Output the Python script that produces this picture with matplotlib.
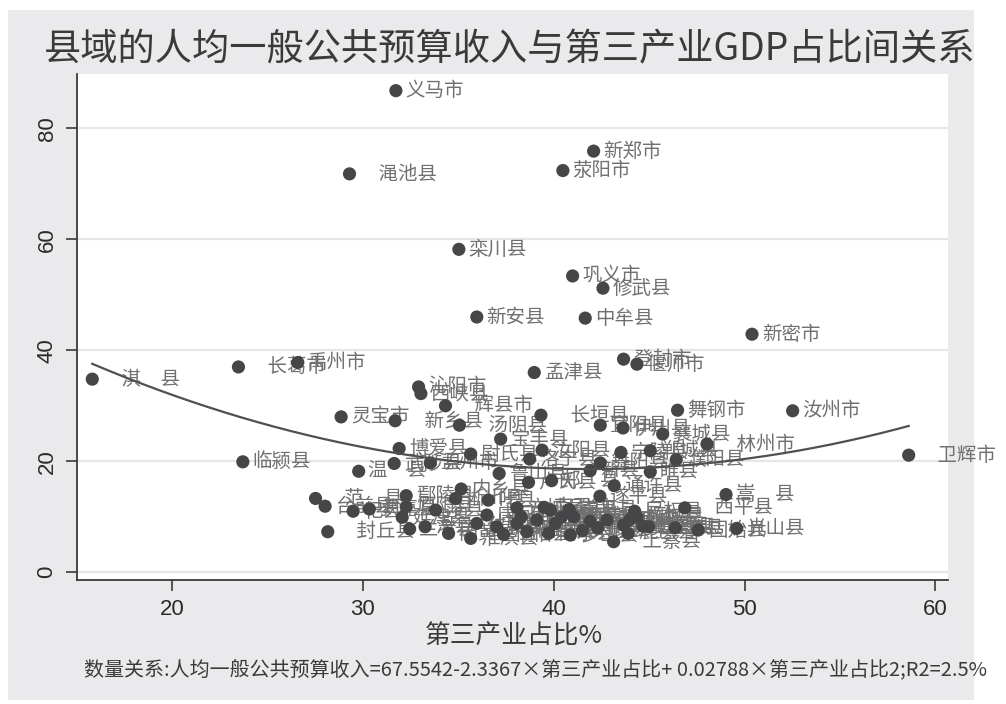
import matplotlib
matplotlib.use("Agg")
import matplotlib.pyplot as plt
from matplotlib.patches import Rectangle
import numpy as np

# ---------------- data ----------------
county_names = [
    "义马市", "　渑池县", "新郑市", "荥阳市", "栾川县", "巩义市", "修武县", "新安县", "中牟县", "新密市",
    "登封市", "偃师市", "　淇　县", "　长葛市", "禹州市", "孟津县", "沁阳市", "西峡县", "　辉县市", "灵宝市",
    "　新乡县", "　汤阴县", "　长垣县", "宜阳县", "伊川县", "舞钢市", "汝州市", "　卫辉市", "襄城县", "　林州市",
    "宁陵县", "郸城县", "濮阳县", "舞阳县", "睢县", "通许县", "嵩　县", "　西平县", "民权县", "光山县",
    "固始县", "息县", "　上蔡县", "新蔡县", "宝丰县", "汝阳县", "洛宁县", "尉氏县", "鲁山县", "新县",
    "郏　县", "卢氏县", "遂平县", "叶县", "方城县", "南召县", "镇平县", "博爱县", "武陟县", "温　县",
    "孟州市", "　范　县", "台前县", "杞县", "获嘉县", "鄢陵县", "原阳县", "延津县", "　封丘县", "兰考县",
    "滑县", "浚县", "内黄县", "内乡县", "淅川县", "淮滨县", "社旗县", "唐河县", "新野县", "桐柏县",
    "泌阳县", "确山县", "正阳县", "商水县", "汝南县", "平舆县", "罗山县", "商城县", "潢川县", "虞城县",
    "夏邑县", "柘城县", "沈丘县", "临颍县", "太康县", "扶沟县", "鹿邑县", "西华县", "淮阳县", "项城市",
]
tertiary_share = [
    31.73, 29.30, 42.09, 40.48, 35.03, 40.99, 42.58, 35.97, 41.65, 50.39,
    43.66, 44.36, 15.82, 23.48, 26.59, 38.98, 32.92, 33.04, 34.33, 28.86,
    31.69, 35.06, 39.33, 42.44, 43.63, 46.49, 52.52, 58.60, 45.71, 48.03,
    43.52, 45.06, 46.42, 42.44, 45.06, 43.17, 49.03, 46.87, 44.24, 49.59,
    47.57, 46.37, 43.14, 44.67, 37.22, 39.39, 38.74, 35.65, 37.14, 41.91,
    39.89, 38.68, 42.42, 36.57, 38.07, 39.50, 40.81, 31.90, 31.64, 29.78,
    33.53, 27.52, 28.02, 29.49, 30.34, 32.27, 32.27, 32.06, 28.16, 32.45,
    33.26, 33.81, 34.49, 35.15, 34.86, 35.65, 35.97, 36.50, 37.02, 37.37,
    38.07, 38.59, 39.12, 39.73, 39.82, 40.08, 40.87, 41.04, 41.91, 42.79,
    43.66, 44.36, 44.97, 23.71, 41.50, 42.30, 43.90, 38.30, 40.40, 44.00,
]
per_capita_revenue = [
    86.8, 71.8, 75.9, 72.4, 58.2, 53.4, 51.2, 46.0, 45.8, 42.9,
    38.4, 37.5, 34.8, 37.0, 37.8, 36.0, 33.4, 32.2, 30.0, 28.0,
    27.3, 26.5, 28.3, 26.5, 26.0, 29.2, 29.1, 21.1, 24.9, 23.1,
    21.6, 21.9, 20.3, 19.7, 18.1, 15.6, 14.0, 11.6, 11.0, 7.9,
    7.6, 8.0, 5.5, 8.3, 24.0, 22.0, 20.4, 21.3, 17.8, 18.3,
    16.5, 16.2, 13.7, 13.0, 11.6, 11.7, 11.3, 22.3, 19.6, 18.2,
    19.7, 13.3, 11.9, 11.0, 11.4, 13.8, 11.8, 9.9, 7.3, 7.8,
    8.2, 11.2, 7.0, 15.0, 13.3, 6.1, 8.8, 10.3, 8.2, 6.8,
    8.8, 7.3, 9.4, 7.0, 11.2, 8.8, 6.7, 10.0, 9.2, 9.4,
    8.5, 10.0, 8.2, 19.9, 7.5, 8.0, 7.0, 10.0, 9.9, 9.5,
]
# quadratic fit reported in the note
fit_b0, fit_b1, fit_b2 = 67.5542, -2.3367, 0.02788

title_text = "县域的人均一般公共预算收入与第三产业GDP占比间关系"
xlabel_text = "第三产业占比%"
note_text = "数量关系:人均一般公共预算收入=67.5542-2.3367×第三产业占比+ 0.02788×第三产业占比2;R2=2.5%"
xticks = [20, 30, 40, 50, 60]
yticks = [0, 20, 40, 60, 80]

# ---------------- styling ----------------
CJK = ["Noto Sans CJK SC", "DejaVu Sans"]
plt.rcParams["font.family"] = CJK
W, H = 1006, 704
fig = plt.figure(figsize=(W / 100, H / 100), dpi=100)
fig.patch.set_facecolor("white")
bg = "#eaeaec"
fig.add_artist(Rectangle((8 / W, 4 / H), (974 - 8) / W, (700 - 10) / H,
                         transform=fig.transFigure, facecolor=bg, edgecolor="none", zorder=0))

ax = fig.add_axes([77 / W, (H - 580) / H, (948 - 77) / W, (580 - 74) / H])
ax.set_facecolor("white")
ax.set_xlim(15.02, 60.66)
ax.set_ylim(-1.4, 89.8)

for v in yticks:
    ax.axhline(v, color="#e6e6e6", lw=1.6, zorder=1)

x = np.array(tertiary_share)
y = np.array(per_capita_revenue)
for name, xi, yi in zip(county_names, x, y):
    ax.annotate(name, (xi, yi), xytext=(7, 0), textcoords="offset points",
                ha="left", va="center", fontsize=14, color="#707070",
                family=CJK, zorder=2, annotation_clip=False)
ax.scatter(x, y, s=90, color="#464648", edgecolors="none", zorder=3)

xs = np.linspace(x.min(), x.max(), 200)
ax.plot(xs, fit_b0 + fit_b1 * xs + fit_b2 * xs ** 2, color="#505050", lw=1.6, zorder=4)

for side in ["top", "right"]:
    ax.spines[side].set_visible(False)
for side in ["left", "bottom"]:
    ax.spines[side].set_color("#3a3a3a")
    ax.spines[side].set_linewidth(1.3)

ax.set_xticks(xticks)
ax.set_yticks(yticks)
ax.tick_params(axis="both", direction="out", length=8, width=1.2, color="#3a3a3a",
               labelsize=16, labelcolor="#2a2a2a", pad=6)
for lab in ax.get_xticklabels() + ax.get_yticklabels():
    lab.set_family(["Liberation Sans", "DejaVu Sans"])
for lab in ax.get_yticklabels():
    lab.set_rotation(90)
    lab.set_va("center")

fig.text(510 / W, 1 - 50 / H, title_text, ha="center", va="center",
         fontsize=26.8, color="#3a3a3a", family=CJK)
fig.text(514 / W, 1 - 637 / H, xlabel_text, ha="center", va="center",
         fontsize=18.5, color="#3a3a3a", family=CJK)
fig.text(536 / W, 1 - 670 / H, note_text, ha="center", va="center",
         fontsize=14.4, color="#3a3a3a", family=CJK)

fig.savefig("out.png", dpi=100, facecolor=fig.get_facecolor())
